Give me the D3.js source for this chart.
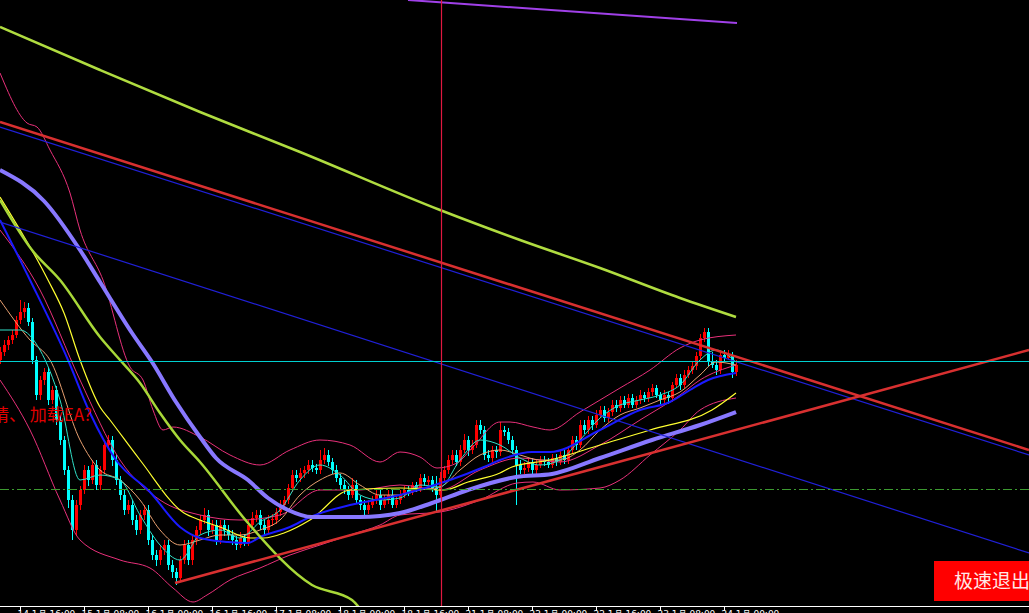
<!DOCTYPE html>
<html><head><meta charset="utf-8">
<script src="https://cdn.jsdelivr.net/npm/d3@7"></script>
<style>html,body{margin:0;padding:0;background:#000;overflow:hidden}svg{display:block}</style>
</head><body>
<svg id="c" width="1029" height="613"></svg>
<script>
// ---- candle data (price) ----
const open = [1.1640,1.1648,1.1655,1.1660,1.1665,1.1680,1.1688,1.1692,1.1678,1.1640,
1.1605,1.1620,1.1628,1.1600,1.1610,1.1580,1.1560,1.1530,1.1500,1.1470,
1.1495,1.1510,1.1530,1.1520,1.1535,1.1515,1.1530,1.1555,1.1560,1.1540,
1.1520,1.1505,1.1490,1.1495,1.1480,1.1470,1.1485,1.1490,1.1460,1.1445,
1.1440,1.1450,1.1455,1.1435,1.1428,1.1422,1.1440,1.1455,1.1440,1.1460,
1.1470,1.1480,1.1485,1.1470,1.1475,1.1460,1.1475,1.1470,1.1465,1.1460,
1.1455,1.1462,1.1458,1.1475,1.1482,1.1485,1.1475,1.1470,1.1480,1.1480,
1.1488,1.1495,1.1500,1.1512,1.1525,1.1522,1.1527,1.1530,1.1535,1.1532,
1.1530,1.1540,1.1545,1.1538,1.1530,1.1522,1.1515,1.1510,1.1505,1.1515,
1.1500,1.1495,1.1490,1.1495,1.1500,1.1505,1.1495,1.1500,1.1505,1.1495,
1.1500,1.1505,1.1510,1.1508,1.1515,1.1512,1.1522,1.1518,1.1520,1.1512,
1.1505,1.1522,1.1530,1.1540,1.1545,1.1538,1.1550,1.1560,1.1550,1.1555,
1.1575,1.1570,1.1545,1.1542,1.1550,1.1548,1.1570,1.1568,1.1560,1.1550,
1.1535,1.1530,1.1532,1.1538,1.1530,1.1535,1.1540,1.1538,1.1535,1.1542,
1.1538,1.1545,1.1540,1.1550,1.1560,1.1555,1.1575,1.1570,1.1580,1.1575,
1.1585,1.1590,1.1582,1.1588,1.1595,1.1592,1.1600,1.1595,1.1602,1.1595,
1.1600,1.1605,1.1602,1.1608,1.1612,1.1605,1.1600,1.1605,1.1602,1.1615,
1.1622,1.1615,1.1625,1.1630,1.1634,1.1644,1.1662,1.1668,1.1638,1.1635,
1.1630,1.1645,1.1642,1.1645,1.1628];
const high = [1.1653,1.1660,1.1664,1.1670,1.1684,1.1700,1.1698,1.1697,1.1682,1.1644,
1.1624,1.1632,1.1632,1.1614,1.1614,1.1585,1.1564,1.1534,1.1505,1.1500,
1.1514,1.1535,1.1534,1.1540,1.1540,1.1534,1.1560,1.1565,1.1564,1.1545,
1.1524,1.1510,1.1500,1.1500,1.1485,1.1490,1.1495,1.1495,1.1465,1.1450,
1.1455,1.1460,1.1460,1.1440,1.1432,1.1444,1.1460,1.1460,1.1465,1.1474,
1.1485,1.1492,1.1490,1.1480,1.1480,1.1480,1.1480,1.1475,1.1470,1.1464,
1.1468,1.1466,1.1480,1.1488,1.1490,1.1490,1.1480,1.1485,1.1486,1.1492,
1.1500,1.1504,1.1516,1.1530,1.1530,1.1532,1.1534,1.1540,1.1540,1.1536,
1.1550,1.1552,1.1550,1.1542,1.1535,1.1526,1.1520,1.1514,1.1522,1.1520,
1.1504,1.1500,1.1500,1.1504,1.1510,1.1510,1.1505,1.1510,1.1510,1.1505,
1.1510,1.1514,1.1514,1.1518,1.1518,1.1526,1.1526,1.1524,1.1524,1.1524,
1.1528,1.1534,1.1545,1.1550,1.1550,1.1555,1.1566,1.1564,1.1560,1.1580,
1.1580,1.1574,1.1550,1.1554,1.1554,1.1578,1.1574,1.1572,1.1564,1.1554,
1.1540,1.1538,1.1542,1.1542,1.1540,1.1544,1.1544,1.1542,1.1546,1.1546,
1.1550,1.1550,1.1554,1.1564,1.1564,1.1580,1.1580,1.1584,1.1584,1.1590,
1.1594,1.1594,1.1592,1.1600,1.1600,1.1604,1.1604,1.1606,1.1606,1.1604,
1.1610,1.1608,1.1612,1.1616,1.1615,1.1608,1.1610,1.1608,1.1618,1.1626,
1.1626,1.1630,1.1634,1.1638,1.1648,1.1666,1.1672,1.1672,1.1648,1.1640,
1.1648,1.1650,1.1650,1.1648,1.1640];
const low = [1.1636,1.1644,1.1650,1.1656,1.1662,1.1676,1.1682,1.1674,1.1636,1.1600,
1.1600,1.1615,1.1595,1.1596,1.1575,1.1555,1.1525,1.1492,1.1460,1.1465,
1.1490,1.1506,1.1514,1.1516,1.1510,1.1510,1.1526,1.1550,1.1534,1.1515,
1.1500,1.1485,1.1486,1.1475,1.1465,1.1466,1.1480,1.1455,1.1440,1.1434,
1.1435,1.1445,1.1430,1.1422,1.1415,1.1418,1.1436,1.1435,1.1435,1.1455,
1.1466,1.1476,1.1464,1.1466,1.1455,1.1456,1.1464,1.1460,1.1455,1.1450,
1.1452,1.1454,1.1454,1.1472,1.1478,1.1470,1.1465,1.1466,1.1474,1.1476,
1.1484,1.1490,1.1496,1.1508,1.1518,1.1518,1.1522,1.1526,1.1528,1.1526,
1.1526,1.1536,1.1534,1.1526,1.1518,1.1510,1.1506,1.1500,1.1502,1.1496,
1.1490,1.1485,1.1486,1.1492,1.1496,1.1490,1.1492,1.1496,1.1492,1.1492,
1.1496,1.1502,1.1504,1.1505,1.1508,1.1508,1.1514,1.1515,1.1508,1.1487,
1.1500,1.1518,1.1526,1.1536,1.1534,1.1534,1.1547,1.1544,1.1546,1.1552,
1.1566,1.1540,1.1538,1.1538,1.1542,1.1544,1.1564,1.1556,1.1546,1.1495,
1.1526,1.1526,1.1528,1.1526,1.1526,1.1532,1.1534,1.1532,1.1532,1.1534,
1.1535,1.1536,1.1536,1.1546,1.1550,1.1552,1.1566,1.1566,1.1570,1.1572,
1.1582,1.1578,1.1578,1.1584,1.1588,1.1588,1.1592,1.1592,1.1592,1.1592,
1.1596,1.1598,1.1598,1.1604,1.1602,1.1596,1.1596,1.1596,1.1598,1.1612,
1.1610,1.1612,1.1622,1.1626,1.1630,1.1640,1.1658,1.1634,1.1632,1.1625,
1.1626,1.1638,1.1640,1.1622,1.1624];
const close = [1.1648,1.1655,1.1660,1.1665,1.1680,1.1688,1.1692,1.1678,1.1640,1.1605,
1.1620,1.1628,1.1600,1.1610,1.1580,1.1560,1.1530,1.1500,1.1470,1.1495,
1.1510,1.1530,1.1520,1.1535,1.1515,1.1530,1.1555,1.1560,1.1540,1.1520,
1.1505,1.1490,1.1495,1.1480,1.1470,1.1485,1.1490,1.1460,1.1445,1.1440,
1.1450,1.1455,1.1435,1.1428,1.1422,1.1440,1.1455,1.1440,1.1460,1.1470,
1.1480,1.1485,1.1470,1.1475,1.1460,1.1475,1.1470,1.1465,1.1460,1.1455,
1.1462,1.1458,1.1475,1.1482,1.1485,1.1475,1.1470,1.1480,1.1481,1.1488,
1.1495,1.1500,1.1512,1.1525,1.1522,1.1527,1.1530,1.1535,1.1532,1.1530,
1.1540,1.1545,1.1538,1.1530,1.1522,1.1515,1.1510,1.1505,1.1515,1.1500,
1.1495,1.1490,1.1495,1.1500,1.1505,1.1495,1.1500,1.1505,1.1495,1.1500,
1.1505,1.1510,1.1508,1.1515,1.1512,1.1522,1.1518,1.1520,1.1512,1.1505,
1.1522,1.1530,1.1540,1.1545,1.1538,1.1550,1.1560,1.1550,1.1555,1.1575,
1.1570,1.1545,1.1542,1.1550,1.1548,1.1570,1.1568,1.1560,1.1550,1.1535,
1.1530,1.1532,1.1538,1.1530,1.1535,1.1540,1.1538,1.1535,1.1542,1.1538,
1.1545,1.1540,1.1550,1.1560,1.1555,1.1575,1.1570,1.1580,1.1575,1.1585,
1.1590,1.1582,1.1588,1.1595,1.1592,1.1600,1.1595,1.1602,1.1595,1.1600,
1.1605,1.1602,1.1608,1.1612,1.1605,1.1600,1.1605,1.1602,1.1615,1.1622,
1.1615,1.1625,1.1630,1.1634,1.1644,1.1662,1.1668,1.1638,1.1635,1.1630,
1.1645,1.1642,1.1645,1.1628,1.1635];

// ---- indicator lines: [bar index, price] ----
const maLong = [[0,1.1973],[25,1.1930],[50,1.1888],[75,1.1848],[110,1.1790],[130,1.1760],[150,1.1732],[170,1.1702],[184,1.1683]];
const maSteep = [[0,1.1800],[8,1.1750],[15,1.1720],[25,1.1663],[30,1.1640],[35,1.1617],[40,1.1587],[45,1.1560],[50,1.1538],[62,1.1477],[78,1.1415],[88,1.1400],[92,1.1380]];
const maPurple = [[0,1.1830],[11,1.1799],[20,1.1750],[25,1.1718],[33,1.1667],[38,1.1638],[44,1.1598],[50,1.1563],[54,1.1542],[62,1.1520],[67,1.1502],[72,1.1490],[78,1.1483],[90,1.1483],[100,1.1487],[108,1.1497],[117,1.1510],[129,1.1523],[138,1.1526],[150,1.1542],[163,1.1560],[175,1.1575],[184,1.1588]];
const maBlue = [[0,1.1780],[7.5,1.1720],[17,1.1640],[22.5,1.1587],[29,1.1540],[37.5,1.1508],[45,1.1473],[50,1.1462],[57,1.1458],[62,1.1457],[65,1.1463],[72.5,1.1473],[77.5,1.1483],[87.5,1.1495],[100,1.1505],[112.5,1.1520],[121,1.1533],[125,1.1540],[133,1.1548],[137.5,1.1548],[150,1.1570],[160,1.1590],[167.5,1.1598],[172.5,1.1610],[177,1.1620],[184,1.1627]];
const maYellow = [[0,1.1803],[12,1.1720],[16,1.1687],[20,1.1640],[25,1.1593],[27.5,1.1580],[35,1.1540],[46,1.1487],[50,1.1480],[55,1.1473],[62.5,1.1462],[66,1.1462],[71,1.1467],[77.5,1.1480],[87.5,1.1510],[100,1.1512],[111,1.1510],[117,1.1518],[125,1.1527],[128,1.1533],[137.5,1.1540],[150,1.1555],[162.5,1.1570],[178,1.1590],[184,1.1607]];
const maCyan = [[0,1.1670],[5,1.1670],[10,1.1650],[15,1.1600],[20,1.1520],[25,1.1525],[30,1.1520],[35,1.1485],[40,1.1455],[45,1.1440],[50,1.1465],[55,1.1470],[60,1.1462],[65,1.1478],[70,1.1490],[75,1.1520],[80,1.1535],[85,1.1525],[90,1.1505],[95,1.1500],[100,1.1502],[105,1.1515],[110,1.1513],[115,1.1540],[120,1.1560],[125,1.1555],[130,1.1542],[135,1.1535],[140,1.1540],[145,1.1560],[150,1.1582],[155,1.1595],[160,1.1600],[165,1.1605],[170,1.1615],[175,1.1640],[179,1.1650],[184,1.1638]];
const maTan = [[0,1.1700],[7.5,1.1660],[12.5,1.1640],[20,1.1560],[25,1.1530],[30,1.1520],[35,1.1500],[40,1.1470],[45,1.1455],[50,1.1460],[55,1.1465],[60,1.1465],[65,1.1470],[70,1.1480],[75,1.1505],[80,1.1520],[85,1.1527],[90,1.1515],[95,1.1505],[100,1.1505],[105,1.1510],[110,1.1513],[115,1.1530],[120,1.1545],[125,1.1550],[130,1.1545],[135,1.1540],[140,1.1540],[145,1.1550],[150,1.1570],[155,1.1585],[160,1.1592],[165,1.1600],[170,1.1608],[175,1.1625],[179,1.1638],[184,1.1635]];
const bbUp = [[0,1.1927],[6.75,1.1877],[9.25,1.1873],[12.5,1.1850],[17.5,1.1807],[20,1.1770],[25.75,1.1720],[32.5,1.1633],[35.75,1.1620],[38.25,1.1590],[40.75,1.1570],[43.25,1.1573],[50,1.1563],[57.5,1.1545],[65,1.1535],[72.5,1.1550],[80,1.1560],[87.5,1.1555],[95,1.1538],[100,1.1548],[105,1.1543],[109.25,1.1532],[114.25,1.1537],[118.25,1.1553],[125,1.1578],[127.5,1.1578],[133.25,1.1573],[137.5,1.1570],[145,1.1588],[155,1.1612],[162.5,1.1630],[170,1.1652],[175,1.1660],[184,1.1665]];
const bbMid = [[0,1.1770],[10,1.1710],[20,1.1620],[30,1.1540],[40,1.1500],[50,1.1485],[60,1.1480],[70,1.1485],[80,1.1510],[90,1.1510],[100,1.1515],[110,1.1510],[120,1.1530],[130,1.1542],[140,1.1538],[150,1.1555],[160,1.1580],[170,1.1605],[175,1.1620],[184,1.1635]];
const bbLo = [[0,1.1620],[7.5,1.1570],[15,1.1500],[20,1.1460],[30,1.1440],[37.5,1.1432],[43.25,1.1412],[48.25,1.1398],[51.75,1.1405],[57.5,1.1420],[65,1.1432],[72.5,1.1445],[80,1.1455],[87.5,1.1465],[95,1.1475],[100,1.1485],[110,1.1488],[120,1.1500],[129.25,1.1517],[133.25,1.1518],[140,1.1510],[150,1.1512],[155,1.1520],[162.5,1.1545],[170,1.1570],[175,1.1590],[184,1.1602]];

// ---- objects ----
const trendRedDown = [[0,1.1878],[257.25,1.1550]];
const trendBlueUpper = [[0,1.1873],[257.25,1.1545]];
const trendBlueLower = [[0,1.1778],[257.25,1.1447]];
const trendRedUp = [[43.75,1.1417],[257.25,1.1650]];
const trendPurpleTop = [[102,1.2000],[184.25,1.1977]];
const vLineIdx = 110.25;
const hLineCyan = 1.1639;
const hLineGreen = 1.1511;

// ---- time axis ----
const tickIdx = [5,21,37,53,69,85,101,117,133,149,165,181];
const tickLabels = ["14 1月 16:00","15 1月 08:00","16 1月 00:00","16 1月 16:00","17 1月 08:00","18 1月 00:00","18 1月 16:00","21 1月 08:00","22 1月 00:00","22 1月 16:00","23 1月 08:00","24 1月 00:00"];

const W = 1029, H = 613, plotH = 606;
const svg = d3.select("#c");
svg.append("rect").attr("width", W).attr("height", H).attr("fill", "#000");

const x = d3.scaleLinear().domain([0, 257.25]).range([0, W]);
const y = d3.scaleLinear().domain([1.1394, 1.2000]).range([plotH, 0]);

svg.append("clipPath").attr("id", "clip").append("rect").attr("width", W).attr("height", plotH);
const g = svg.append("g").attr("clip-path", "url(#clip)");

// candles
const idx = d3.range(close.length);
const cg = g.append("g");
idx.forEach(i => {
  const up = close[i] >= open[i];
  const col = up ? "#ff0000" : "#00ffff";
  const cx = Math.round(x(i));
  cg.append("line").attr("x1", cx + 0.5).attr("x2", cx + 0.5)
    .attr("y1", y(high[i])).attr("y2", y(low[i])).attr("stroke", col).attr("stroke-width", 1);
  const top = y(Math.max(open[i], close[i])), bot = y(Math.min(open[i], close[i]));
  cg.append("rect").attr("x", cx - 1).attr("width", 3)
    .attr("y", top).attr("height", Math.max(1, bot - top)).attr("fill", col);
});

const line = d3.line().x(d => x(d[0])).y(d => y(d[1])).curve(d3.curveMonotoneX);
function draw(data, color, w) {
  return g.append("path").attr("d", line(data)).attr("fill", "none")
    .attr("stroke", color).attr("stroke-width", w).attr("stroke-linejoin", "round");
}

// Bollinger bands
draw(bbUp, "#e8307a", 1);
draw(bbMid, "#e8307a", 1);
draw(bbLo, "#e8307a", 1);
// moving averages
draw(maTan, "#e8a070", 1);
draw(maCyan, "#30e0c8", 1);
draw(maYellow, "#ffff30", 1.2);
draw(maBlue, "#1a1aff", 2);
draw(maSteep, "#a8d838", 2.5);
draw(maLong, "#b0dc40", 2.5);
draw(maPurple, "#8878ff", 4);

// objects
const straight = d3.line().x(d => x(d[0])).y(d => y(d[1]));
g.append("path").attr("d", straight(trendBlueUpper)).attr("stroke", "#2020d8").attr("stroke-width", 1.2).attr("fill", "none");
g.append("path").attr("d", straight(trendBlueLower)).attr("stroke", "#2020d8").attr("stroke-width", 1.2).attr("fill", "none");
g.append("path").attr("d", straight(trendRedDown)).attr("stroke", "#d83030").attr("stroke-width", 2.5).attr("fill", "none");
g.append("path").attr("d", straight(trendRedUp)).attr("stroke", "#d83030").attr("stroke-width", 2.5).attr("fill", "none");
g.append("path").attr("d", straight(trendPurpleTop)).attr("stroke", "#a040e8").attr("stroke-width", 2).attr("fill", "none");

g.append("line").attr("x1", 0).attr("x2", W).attr("y1", Math.round(y(hLineCyan)) + 0.5).attr("y2", Math.round(y(hLineCyan)) + 0.5)
  .attr("stroke", "#00d0d0").attr("stroke-width", 1.2);
g.append("line").attr("x1", 0).attr("x2", W).attr("y1", Math.round(y(hLineGreen)) + 0.5).attr("y2", Math.round(y(hLineGreen)) + 0.5)
  .attr("stroke", "#3c9a30").attr("stroke-width", 1.2).attr("stroke-dasharray", "9,3,2,3");
g.append("line").attr("x1", Math.round(x(vLineIdx)) + 0.5).attr("x2", Math.round(x(vLineIdx)) + 0.5).attr("y1", 0).attr("y2", plotH)
  .attr("stroke", "#e01840").attr("stroke-width", 1.2);

// text overlay
svg.append("text").attr("x", -8).attr("y", 421).attr("fill", "#e00000")
  .attr("font-family", "'Noto Sans CJK SC', sans-serif").attr("font-size", 17)
  .text("请、 加载EA?");

// button
svg.append("rect").attr("x", 934).attr("y", 561).attr("width", 100).attr("height", 40).attr("fill", "#ff0000");
svg.append("text").attr("x", 954).attr("y", 588).attr("fill", "#ffe8e8")
  .attr("font-family", "'Noto Sans CJK SC', sans-serif").attr("font-size", 19).text("极速退出");

// time axis
svg.append("line").attr("x1", 0).attr("x2", W).attr("y1", 606.5).attr("y2", 606.5).attr("stroke", "#ffffff").attr("stroke-width", 1);
const ax = svg.append("g");
tickIdx.forEach((t, k) => {
  const tx = Math.round(x(t)) + 0.5;
  ax.append("line").attr("x1", tx).attr("x2", tx).attr("y1", 606).attr("y2", 611).attr("stroke", "#fff");
  ax.append("text").attr("x", tx - 3).attr("y", 617).attr("fill", "#fff")
    .attr("font-family", "'DejaVu Sans', sans-serif").attr("font-size", 9).text(tickLabels[k]);
});
</script>
</body></html>
